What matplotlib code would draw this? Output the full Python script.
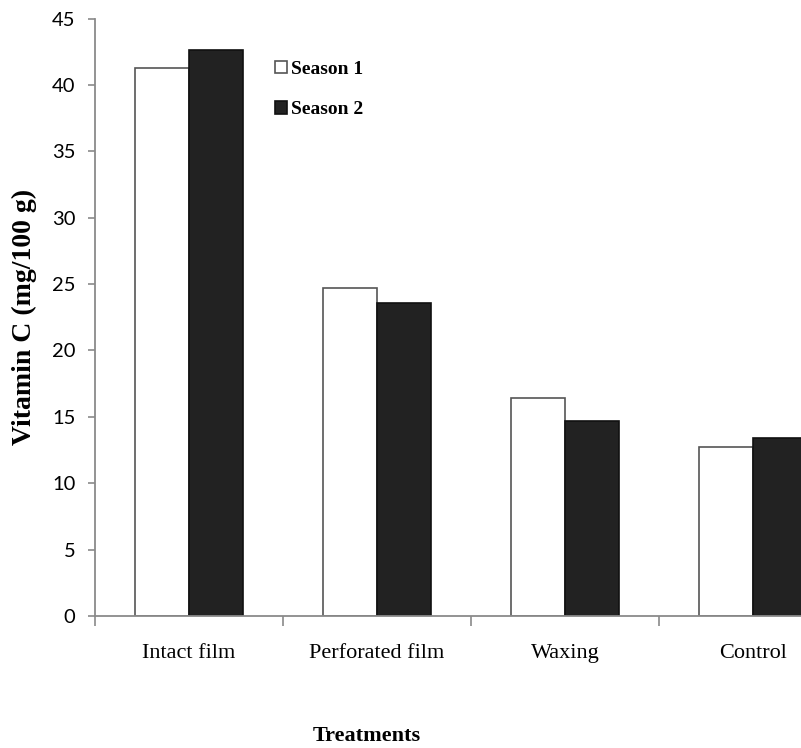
import numpy as np
import matplotlib
matplotlib.use("Agg")
import matplotlib.pyplot as plt

# values
treatments = ["Intact film", "Perforated film", "Waxing", "Control"]
season1 = [41.3, 24.7, 16.4, 12.7]
season2 = [42.6, 23.6, 14.7, 13.4]
yticks = [0, 5, 10, 15, 20, 25, 30, 35, 40, 45]

axis_grey = "#8a8a8a"
dark = "#222222"

fig = plt.figure(figsize=(8.01, 7.48), dpi=100)
# the original is cropped on the right: the axes run past the figure edge
ax = fig.add_axes([95 / 801, 132 / 748, 752 / 801, 597.5 / 748])

x = np.arange(len(treatments))
w = 0.287
b1 = ax.bar(x + 0.5 - w, season1, w, align="edge", color="white",
            edgecolor="#555555", linewidth=1.2, label="Season 1")
b2 = ax.bar(x + 0.5, season2, w, align="edge", color=dark,
            edgecolor="#111111", linewidth=1.2, label="Season 2")

ax.set_xlim(0, len(treatments))
ax.set_ylim(0, 45)

for s in ["top", "right"]:
    ax.spines[s].set_visible(False)
for s in ["left", "bottom"]:
    ax.spines[s].set_color(axis_grey)
    ax.spines[s].set_linewidth(1.3)

# y ticks
ax.set_yticks(yticks)
ax.tick_params(axis="y", direction="out", length=5, width=1.2,
               color=axis_grey, pad=9, labelsize=14.5)
for t in ax.get_yticklabels():
    t.set_fontfamily("Lato")

# x: boundary ticks, labels centred on the groups
ax.set_xticks(np.arange(len(treatments) + 1))
ax.set_xticklabels([])
ax.tick_params(axis="x", which="major", direction="out", length=7.5,
               width=1.2, color=axis_grey)
ax.set_xticks(x + 0.5, minor=True)
ax.set_xticklabels(treatments, minor=True, fontfamily="Liberation Serif",
                   fontsize=16)
ax.tick_params(axis="x", which="minor", length=0, pad=20)

ax.set_ylabel("Vitamin C (mg/100 g)", fontfamily="Liberation Serif",
              fontweight="bold", fontsize=20)
ax.yaxis.set_label_coords(-0.077, 0.5)

fig.text(367 / 801, 1 - 736 / 748, "Treatments", ha="center", va="center",
         fontfamily="Liberation Serif", fontweight="bold", fontsize=16)

leg = ax.legend(handles=[b1, b2], loc="upper left",
                bbox_to_anchor=(275 / 801, 1 - 61 / 748),
                bbox_transform=fig.transFigure, frameon=False,
                prop={"family": "Liberation Serif", "weight": "bold", "size": 14},
                handlelength=0.6, handleheight=0.6, handletextpad=0.2,
                labelspacing=1.2, borderpad=0, borderaxespad=0)

fig.savefig("out.png", dpi=100)
